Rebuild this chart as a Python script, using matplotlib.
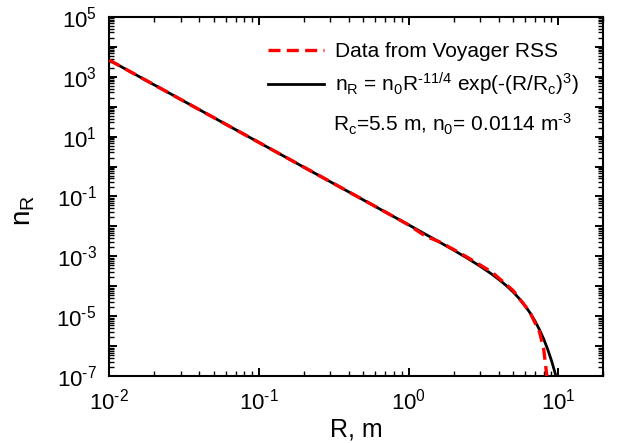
import math
import matplotlib
matplotlib.use("Agg")
import matplotlib.pyplot as plt
import matplotlib.ticker as mticker

plt.rcParams['font.family'] = ['Liberation Sans', 'DejaVu Sans']
plt.rcParams['mathtext.default'] = 'regular'
plt.rcParams['axes.unicode_minus'] = False

# Red dashed: data from Voyager RSS
data_R = [0.01, 0.1, 0.5, 1.0, 1.3, 1.6, 2.0, 2.5, 3.6, 5.0, 6.45, 7.5, 8.0, 8.4]
data_n = [3600, 6.4, 0.077, 0.0113, 0.0047, 0.0031, 0.0017, 0.00090, 0.00030,
          7.2e-5, 1.4e-5, 3.0e-6, 8.0e-7, 1.0e-7]

# Black solid: fitted model curve
fit_R = [0.01, 1.0, 1.5, 2.0, 2.5, 3.0, 3.5, 4.0, 4.5, 5.0, 5.5, 6.0, 6.5, 7.0,
         7.5, 8.0, 8.5, 9.0, 9.5, 9.7]
fit_n = [3605, 0.01133, 0.00366, 0.00162, 8.36e-4, 4.73e-4, 2.81e-4, 1.715e-4,
         1.054e-4, 6.43e-5, 3.86e-5, 2.26e-5, 1.27e-5, 6.89e-6, 3.54e-6,
         1.73e-6, 7.9e-7, 3.39e-7, 1.35e-7, 9.1e-8]

HY = '\u2010'
x_ticks = [1e-2, 1e-1, 1e0, 1e1]
x_labels = [r'$10^{%s2}$' % HY, r'$10^{%s1}$' % HY, r'$10^{0}$', r'$10^{1}$']
y_label_exps = [-7, -5, -3, -1, 1, 3, 5]


def ylab(v, p):
    e = round(math.log10(v))
    if e not in y_label_exps:
        return ''
    s = str(e).replace('-', HY)
    return r'$10^{%s}$' % s


fig = plt.figure(figsize=(6.2, 4.43), dpi=100)
ax = fig.add_axes([0.176, 0.151, 0.797, 0.811])

l1, = ax.plot(data_R, data_n, color='#ff0000', lw=2.4, dashes=(3.6, 1.9),
              label='Data from Voyager RSS', zorder=3)
l2, = ax.plot(fit_R, fit_n, color='black', lw=2.0,
              label=r'$n_R$ = $n_0R^{%s11/4}$ exp(-$(R/R_c)^3$)' % HY, zorder=2)

ax.set_xscale('log')
ax.set_yscale('log')
ax.set_xlim(1e-2, 20)
ax.set_ylim(1e-7, 1e5)

ax.xaxis.set_major_locator(mticker.FixedLocator(x_ticks))
ax.xaxis.set_major_formatter(mticker.FixedFormatter(x_labels))
ax.xaxis.set_minor_locator(mticker.LogLocator(base=10, subs=range(2, 10), numticks=20))
ax.xaxis.set_minor_formatter(mticker.NullFormatter())

ax.yaxis.set_major_locator(mticker.FixedLocator([10.0**e for e in range(-7, 6)]))
ax.yaxis.set_major_formatter(mticker.FuncFormatter(ylab))
ax.yaxis.set_minor_locator(mticker.LogLocator(base=10, subs=range(2, 10), numticks=30))
ax.yaxis.set_minor_formatter(mticker.NullFormatter())

ax.tick_params(which='both', direction='in', top=True, right=True, labelsize=16)
ax.tick_params(which='major', length=6, width=1.4, pad=9)
ax.tick_params(which='minor', length=3.5, width=1.0)
for s in ax.spines.values():
    s.set_linewidth(1.5)

ax.set_xlabel('R, m', fontsize=18, labelpad=2)
ax.set_ylabel(r'$n_R$', fontsize=20)
ax.yaxis.set_label_coords(-0.145, 0.46)

leg = ax.legend(handles=[l1, l2], loc='upper left',
                bbox_to_anchor=(268 / 620, 1 - 42 / 443), bbox_transform=fig.transFigure,
                frameon=False, fontsize=15, handlelength=2.7, handletextpad=0.5,
                labelspacing=0.45, borderaxespad=0.0, borderpad=0.0)
fig.text(333 / 620, 1 - 124 / 443, r'$R_c$=5.5 m, $n_0$= 0.0114 $m^{%s3}$' % HY,
         fontsize=15, ha='left', va='center')

fig.savefig('out.png', dpi=100)
